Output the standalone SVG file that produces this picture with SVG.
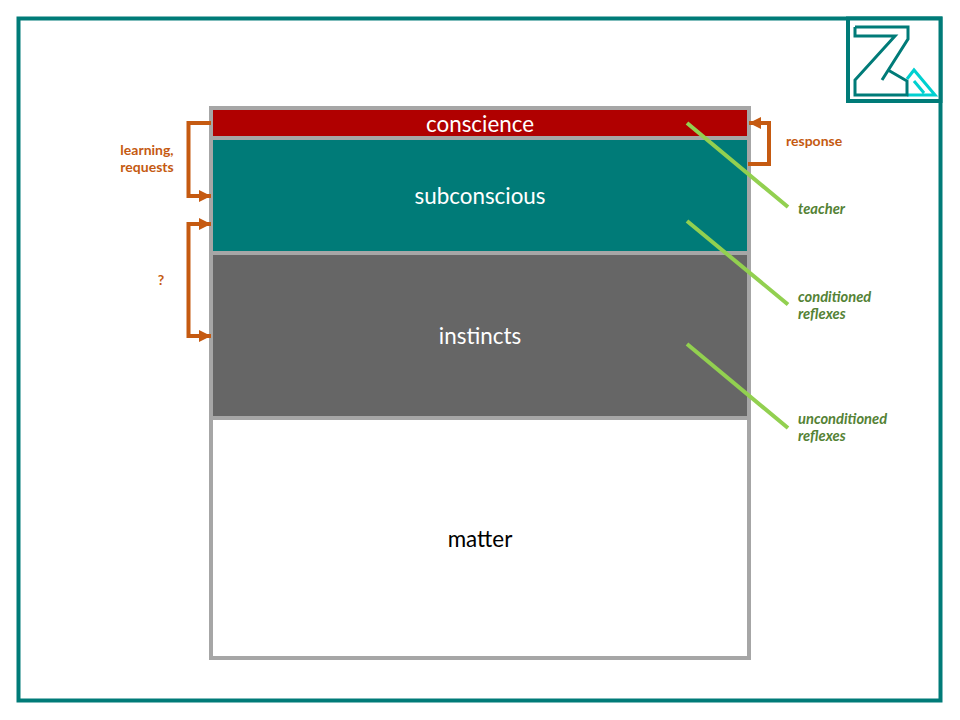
<svg xmlns="http://www.w3.org/2000/svg" width="960" height="720" viewBox="0 0 960 720">
<defs>
<marker id="ah" markerUnits="userSpaceOnUse" markerWidth="13" markerHeight="13" refX="12" refY="6.500" orient="auto-start-reverse"><path d="M0 0.500L12 6.500L0 12.500Z" fill="#c55a11"/></marker>
</defs>
<style>
text{font-family:"Lato","Open Sans","Liberation Sans",sans-serif}
.big{font-size:22.4px;text-anchor:middle}
.or{font-size:14px;font-weight:700;fill:#c55a11}
.gr{font-size:14.700px;font-weight:700;font-style:italic;fill:#548235}
.br{fill:none;stroke:#c55a11;stroke-width:4}
.gl{stroke:#92d050;stroke-width:4;fill:none}
.lg{fill:none;stroke:#007b78;stroke-width:3}
.lc{fill:none;stroke:#00d0d0;stroke-width:3}
</style>
<rect id="frame" x="18.500" y="18.500" width="922" height="682" fill="#fff" stroke="#007b78" stroke-width="4"/>
<g id="logo">
<rect x="848" y="18.500" width="92.500" height="82.500" fill="#fff" stroke="#007b78" stroke-width="4"/>
<path class="lc" d="M907 79L914 70L935 95H907M914 81L924 93"/>
<path class="lg" d="M855 27H908V39L882 80"/>
<path class="lg" d="M888 70L907 81V95H855V80L895 36H855V27"/>
</g>
<g id="matter"><rect x="211" y="418" width="538" height="240" fill="#fff" stroke="#a6a6a6" stroke-width="4"/><text class="big" x="480" y="547" fill="#000">matter</text></g>
<g id="instincts"><rect x="211" y="253" width="538" height="165" fill="#666" stroke="#a6a6a6" stroke-width="4"/><text class="big" x="480" y="344" fill="#fff">instincts</text></g>
<g id="subconscious"><rect x="211" y="138" width="538" height="115" fill="#007b78" stroke="#a6a6a6" stroke-width="4"/><text class="big" x="480" y="204" fill="#fff">subconscious</text></g>
<g id="conscience"><rect x="211" y="108" width="538" height="30" fill="#b00000" stroke="#a6a6a6" stroke-width="4"/><text class="big" x="480" y="132" fill="#fff">conscience</text></g>
<g id="connectors">
<path class="br" marker-end="url(#ah)" d="M211 123H188.500V196H211"/>
<path class="br" marker-start="url(#ah)" marker-end="url(#ah)" d="M211 224H188.500V336H211"/>
<path class="br" marker-end="url(#ah)" d="M748 164H769V123H749"/>
<path class="gl" d="M687 123L788 207M687 221L788 304.500M687 344L788 428"/>
</g>
<g id="labels">
<text class="or" x="147" y="155" text-anchor="middle">learning,</text>
<text class="or" x="147" y="172" text-anchor="middle">requests</text>
<text class="or" x="161" y="285" text-anchor="middle">?</text>
<text class="or" x="786" y="146">response</text>
<text class="gr" x="798" y="213.500">teacher</text>
<text class="gr" x="798" y="301.500">conditioned</text>
<text class="gr" x="798" y="318.500">reflexes</text>
<text class="gr" x="798" y="423.500">unconditioned</text>
<text class="gr" x="798" y="440.500">reflexes</text>
</g>
</svg>
